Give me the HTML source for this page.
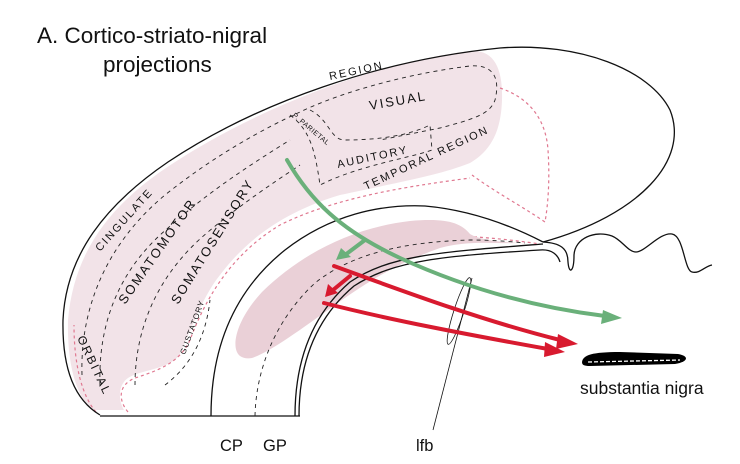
<!DOCTYPE html>
<html><head><meta charset="utf-8"><style>
html,body{margin:0;padding:0;background:#fff;}
svg{display:block;font-family:"Liberation Sans",sans-serif;}
</style></head><body>
<svg width="740" height="464" viewBox="0 0 740 464">
<text x="37" y="43" font-size="22.5" fill="#111">A. Cortico-striato-nigral</text>
<text x="103" y="72" font-size="22.5" fill="#111">projections</text>

<!-- cortex pink band -->
<path fill="#f2e3e8" d="M92,410 C76,395 67,365 68,320 C74,250 112,203 172,164 C262,105 380,62 470,51 C495,49 503,70 502,100 C501,130 492,150 470,163 C440,175 400,182 340,195 C290,210 250,235 220,275 C200,300 190,335 178,357 C165,370 140,370 128,378 C118,385 118,400 124,410 Z"/>
<path fill="none" stroke="#e07890" stroke-width="1.2" stroke-dasharray="3,3" d="M96,412 C82,396 74,365 74,325 M128,412 C118,400 118,385 135,378 C160,370 180,362 190,340 C205,300 230,255 280,225 C340,195 420,185 470,178 M500,88 C530,98 546,120 548,150 C550,180 548,205 545,222 C520,205 495,192 472,175 M420,235 C460,235 500,238 540,244"/>
<!-- striatum -->
<path fill="#ead0d7" d="M240,356 C230,348 236,320 262,292 C300,255 350,228 410,221 C445,218 460,222 470,234 C480,240 500,242 520,243 C490,244 470,240 440,248 C400,262 370,280 335,305 C300,330 270,352 252,358 C247,359 243,358 240,356 Z"/>

<!-- outlines -->
<g fill="none" stroke="#111" stroke-width="1.3">
<path d="M100,415 C75,400 62,370 63,320 C66,255 105,205 168,162 C258,102 380,60 500,48 C580,42 650,70 670,110 C690,160 640,215 543,242"/>
<path d="M543,242 C560,243 568,248 568,262 C569,275 574,272 574,255 C575,238 595,230 612,236 C622,240 628,252 636,252 C645,252 660,232 672,234 C684,236 684,270 692,272 C700,274 705,266 712,265"/>
<path d="M211,416 C211,345 235,290 285,250 C330,215 380,204 425,206 C470,210 510,225 543,242"/>
<path d="M295,416 C295,360 312,315 350,282 C390,255 440,252 543,244"/>
<path d="M299,416 C299,362 316,318 354,286 C394,260 444,256 540,250 C552,249 558,255 560,262"/>
<path d="M100,416 L300,416"/>
<path stroke-width="0.8" d="M433,430 L472,278"/>
<ellipse stroke-width="0.8" cx="459" cy="311" rx="5" ry="35" transform="rotate(18 459 311)"/>
</g>
<!-- dashed internal boundaries -->
<g fill="none" stroke="#222" stroke-width="0.9" stroke-dasharray="4,4">
<path d="M82,375 C80,310 105,245 165,195 C215,155 265,128 300,112 C350,88 420,72 470,66 C495,64 500,80 495,100 C490,115 470,120 440,128 L380,140"/>
<path d="M100,385 C98,325 118,270 168,228 C208,192 250,165 290,140"/>
<path d="M135,385 C135,325 160,272 208,232 C240,205 270,185 300,165"/>
<path d="M290,115 C310,130 315,150 320,185 M310,110 C330,120 330,140 345,140 C380,140 410,135 430,125 L432,150 C410,158 360,165 320,185"/>
<path d="M165,385 C185,370 205,345 210,300"/>
<path d="M255,416 C256,370 275,320 315,283 C350,255 400,242 470,240 C495,240 515,242 525,243"/>
</g>
<!-- labels -->
<g fill="#111" font-size="11" letter-spacing="2">
<text x="330" y="80" transform="rotate(-12 330 80)">REGION</text>
<text x="370" y="110" font-size="13" transform="rotate(-10 370 110)">VISUAL</text>
<text x="292" y="116" font-size="7" letter-spacing="0.5" transform="rotate(40 292 116)">P. PARIETAL</text>
<text x="338" y="168" transform="rotate(-12 338 168)">AUDITORY</text>
<text x="366" y="190" transform="rotate(-25 366 190)">TEMPORAL REGION</text>
<text x="100" y="252" transform="rotate(-48 100 252)">CINGULATE</text>
<text x="125" y="305" font-size="13" transform="rotate(-55 125 305)">SOMATOMOTOR</text>
<text x="178" y="305" font-size="13" transform="rotate(-58 178 305)">SOMATOSENSORY</text>
<text x="185" y="355" font-size="8" letter-spacing="1" transform="rotate(-70 185 355)">GUSTATORY</text>
<text x="77" y="338" font-size="12" transform="rotate(65 77 338)">ORBITAL</text>
</g>
<!-- arrows -->
<g fill="none" stroke-linecap="round">
<path stroke="#6ab07a" stroke-width="4" d="M287,160 C310,200 340,230 400,258 C470,290 540,308 605,316"/>
<path stroke="#6ab07a" stroke-width="4" d="M365,240 L345,255"/>
<path stroke="#d81a2f" stroke-width="4" d="M334,266 C400,290 480,320 560,340"/>
<path stroke="#d81a2f" stroke-width="4" d="M350,276 L333,290"/>
<path stroke="#d81a2f" stroke-width="4" d="M324,303 C390,320 470,335 548,349"/>
</g>
<polygon fill="#6ab07a" points="622,318 603,310 601,324"/>
<polygon fill="#6ab07a" points="336,260 341,248 351,257"/>
<polygon fill="#d81a2f" points="578,344 558,334 556,349"/>
<polygon fill="#d81a2f" points="325,297 328,284 338,293"/>
<polygon fill="#d81a2f" points="565,352 545,342 544,357"/>
<!-- substantia nigra -->
<path fill="#000" d="M582,362 C583,355 592,352 620,352 L678,354 C690,356 688,362 675,364 L590,366 C584,366 582,365 582,362 Z"/>
<path stroke="#fff" stroke-width="1.3" stroke-dasharray="4,2" d="M588,362 L680,360"/>
<text x="580" y="394" font-size="17.5" fill="#111">substantia nigra</text>
<text x="220" y="451" font-size="16.5" fill="#111">CP</text>
<text x="263" y="451" font-size="16.5" fill="#111">GP</text>
<text x="416" y="451" font-size="16.5" fill="#111">lfb</text>
</svg>
</body></html>
